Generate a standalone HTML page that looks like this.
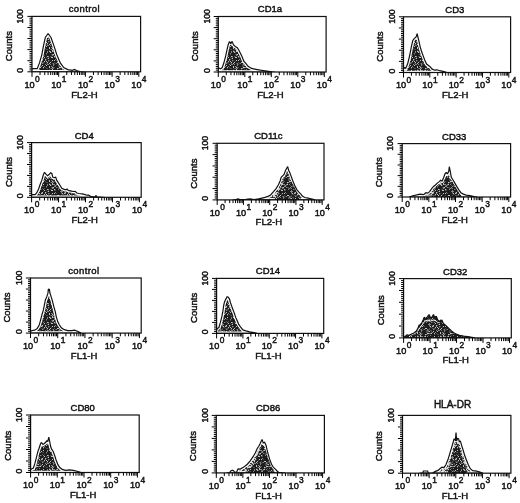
<!DOCTYPE html><html><head><meta charset="utf-8"><style>html,body{margin:0;padding:0;background:#fff;}svg{display:block;will-change:transform;}text{font-family:"Liberation Sans",sans-serif;fill:#111;stroke:#111;stroke-width:0.45px;}</style></head><body>
<svg width="520" height="503" viewBox="0 0 520 503">
<defs>
<pattern id="st" width="23" height="19" patternUnits="userSpaceOnUse"><rect width="23" height="19" fill="#1c1c1c"/><rect x="0" y="0" width="1" height="1" fill="#4e4e4e"/><rect x="2" y="0" width="1" height="1" fill="#4e4e4e"/><rect x="5" y="0" width="1" height="1" fill="#c4c4c4"/><rect x="6" y="0" width="1" height="1" fill="#c4c4c4"/><rect x="8" y="0" width="1" height="1" fill="#4e4e4e"/><rect x="9" y="0" width="1" height="1" fill="#4e4e4e"/><rect x="15" y="0" width="1" height="1" fill="#858585"/><rect x="21" y="0" width="1" height="1" fill="#c4c4c4"/><rect x="1" y="1" width="1" height="1" fill="#4e4e4e"/><rect x="2" y="1" width="1" height="1" fill="#c4c4c4"/><rect x="14" y="1" width="1" height="1" fill="#858585"/><rect x="15" y="1" width="1" height="1" fill="#858585"/><rect x="16" y="1" width="1" height="1" fill="#858585"/><rect x="20" y="1" width="1" height="1" fill="#4e4e4e"/><rect x="0" y="2" width="1" height="1" fill="#4e4e4e"/><rect x="9" y="2" width="1" height="1" fill="#858585"/><rect x="15" y="2" width="1" height="1" fill="#858585"/><rect x="18" y="2" width="1" height="1" fill="#4e4e4e"/><rect x="19" y="2" width="1" height="1" fill="#c4c4c4"/><rect x="22" y="2" width="1" height="1" fill="#c4c4c4"/><rect x="2" y="3" width="1" height="1" fill="#858585"/><rect x="3" y="3" width="1" height="1" fill="#4e4e4e"/><rect x="6" y="3" width="1" height="1" fill="#c4c4c4"/><rect x="8" y="3" width="1" height="1" fill="#c4c4c4"/><rect x="10" y="3" width="1" height="1" fill="#4e4e4e"/><rect x="15" y="3" width="1" height="1" fill="#4e4e4e"/><rect x="16" y="3" width="1" height="1" fill="#c4c4c4"/><rect x="18" y="3" width="1" height="1" fill="#c4c4c4"/><rect x="19" y="3" width="1" height="1" fill="#858585"/><rect x="22" y="3" width="1" height="1" fill="#858585"/><rect x="0" y="4" width="1" height="1" fill="#c4c4c4"/><rect x="2" y="4" width="1" height="1" fill="#4e4e4e"/><rect x="5" y="4" width="1" height="1" fill="#4e4e4e"/><rect x="16" y="4" width="1" height="1" fill="#4e4e4e"/><rect x="17" y="4" width="1" height="1" fill="#4e4e4e"/><rect x="21" y="4" width="1" height="1" fill="#c4c4c4"/><rect x="1" y="5" width="1" height="1" fill="#c4c4c4"/><rect x="4" y="5" width="1" height="1" fill="#c4c4c4"/><rect x="8" y="5" width="1" height="1" fill="#4e4e4e"/><rect x="11" y="5" width="1" height="1" fill="#c4c4c4"/><rect x="12" y="5" width="1" height="1" fill="#c4c4c4"/><rect x="15" y="5" width="1" height="1" fill="#4e4e4e"/><rect x="18" y="5" width="1" height="1" fill="#4e4e4e"/><rect x="19" y="5" width="1" height="1" fill="#4e4e4e"/><rect x="20" y="5" width="1" height="1" fill="#4e4e4e"/><rect x="21" y="5" width="1" height="1" fill="#4e4e4e"/><rect x="0" y="6" width="1" height="1" fill="#4e4e4e"/><rect x="1" y="6" width="1" height="1" fill="#4e4e4e"/><rect x="3" y="6" width="1" height="1" fill="#c4c4c4"/><rect x="6" y="6" width="1" height="1" fill="#4e4e4e"/><rect x="7" y="6" width="1" height="1" fill="#858585"/><rect x="9" y="6" width="1" height="1" fill="#4e4e4e"/><rect x="10" y="6" width="1" height="1" fill="#858585"/><rect x="13" y="6" width="1" height="1" fill="#858585"/><rect x="14" y="6" width="1" height="1" fill="#4e4e4e"/><rect x="15" y="6" width="1" height="1" fill="#4e4e4e"/><rect x="19" y="6" width="1" height="1" fill="#858585"/><rect x="20" y="6" width="1" height="1" fill="#4e4e4e"/><rect x="1" y="7" width="1" height="1" fill="#858585"/><rect x="2" y="7" width="1" height="1" fill="#858585"/><rect x="4" y="7" width="1" height="1" fill="#858585"/><rect x="7" y="7" width="1" height="1" fill="#858585"/><rect x="8" y="7" width="1" height="1" fill="#4e4e4e"/><rect x="12" y="7" width="1" height="1" fill="#4e4e4e"/><rect x="13" y="7" width="1" height="1" fill="#858585"/><rect x="14" y="7" width="1" height="1" fill="#4e4e4e"/><rect x="16" y="7" width="1" height="1" fill="#4e4e4e"/><rect x="17" y="7" width="1" height="1" fill="#4e4e4e"/><rect x="22" y="7" width="1" height="1" fill="#858585"/><rect x="0" y="8" width="1" height="1" fill="#c4c4c4"/><rect x="7" y="8" width="1" height="1" fill="#858585"/><rect x="12" y="8" width="1" height="1" fill="#4e4e4e"/><rect x="13" y="8" width="1" height="1" fill="#4e4e4e"/><rect x="14" y="8" width="1" height="1" fill="#858585"/><rect x="15" y="8" width="1" height="1" fill="#c4c4c4"/><rect x="17" y="8" width="1" height="1" fill="#4e4e4e"/><rect x="19" y="8" width="1" height="1" fill="#c4c4c4"/><rect x="3" y="9" width="1" height="1" fill="#c4c4c4"/><rect x="5" y="9" width="1" height="1" fill="#858585"/><rect x="6" y="9" width="1" height="1" fill="#4e4e4e"/><rect x="12" y="9" width="1" height="1" fill="#4e4e4e"/><rect x="13" y="9" width="1" height="1" fill="#4e4e4e"/><rect x="17" y="9" width="1" height="1" fill="#4e4e4e"/><rect x="18" y="9" width="1" height="1" fill="#858585"/><rect x="21" y="9" width="1" height="1" fill="#858585"/><rect x="3" y="10" width="1" height="1" fill="#c4c4c4"/><rect x="6" y="10" width="1" height="1" fill="#c4c4c4"/><rect x="7" y="10" width="1" height="1" fill="#4e4e4e"/><rect x="8" y="10" width="1" height="1" fill="#4e4e4e"/><rect x="13" y="10" width="1" height="1" fill="#c4c4c4"/><rect x="14" y="10" width="1" height="1" fill="#c4c4c4"/><rect x="15" y="10" width="1" height="1" fill="#858585"/><rect x="16" y="10" width="1" height="1" fill="#858585"/><rect x="17" y="10" width="1" height="1" fill="#c4c4c4"/><rect x="20" y="10" width="1" height="1" fill="#c4c4c4"/><rect x="22" y="10" width="1" height="1" fill="#4e4e4e"/><rect x="0" y="11" width="1" height="1" fill="#4e4e4e"/><rect x="1" y="11" width="1" height="1" fill="#4e4e4e"/><rect x="4" y="11" width="1" height="1" fill="#4e4e4e"/><rect x="5" y="11" width="1" height="1" fill="#858585"/><rect x="6" y="11" width="1" height="1" fill="#4e4e4e"/><rect x="7" y="11" width="1" height="1" fill="#858585"/><rect x="11" y="11" width="1" height="1" fill="#c4c4c4"/><rect x="12" y="11" width="1" height="1" fill="#858585"/><rect x="13" y="11" width="1" height="1" fill="#4e4e4e"/><rect x="20" y="11" width="1" height="1" fill="#4e4e4e"/><rect x="3" y="12" width="1" height="1" fill="#4e4e4e"/><rect x="6" y="12" width="1" height="1" fill="#c4c4c4"/><rect x="11" y="12" width="1" height="1" fill="#4e4e4e"/><rect x="14" y="12" width="1" height="1" fill="#4e4e4e"/><rect x="16" y="12" width="1" height="1" fill="#858585"/><rect x="1" y="13" width="1" height="1" fill="#858585"/><rect x="3" y="13" width="1" height="1" fill="#c4c4c4"/><rect x="4" y="13" width="1" height="1" fill="#858585"/><rect x="6" y="13" width="1" height="1" fill="#c4c4c4"/><rect x="7" y="13" width="1" height="1" fill="#858585"/><rect x="8" y="13" width="1" height="1" fill="#858585"/><rect x="10" y="13" width="1" height="1" fill="#858585"/><rect x="11" y="13" width="1" height="1" fill="#c4c4c4"/><rect x="13" y="13" width="1" height="1" fill="#858585"/><rect x="20" y="13" width="1" height="1" fill="#c4c4c4"/><rect x="1" y="14" width="1" height="1" fill="#858585"/><rect x="4" y="14" width="1" height="1" fill="#c4c4c4"/><rect x="5" y="14" width="1" height="1" fill="#4e4e4e"/><rect x="8" y="14" width="1" height="1" fill="#4e4e4e"/><rect x="9" y="14" width="1" height="1" fill="#858585"/><rect x="10" y="14" width="1" height="1" fill="#4e4e4e"/><rect x="14" y="14" width="1" height="1" fill="#4e4e4e"/><rect x="16" y="14" width="1" height="1" fill="#4e4e4e"/><rect x="18" y="14" width="1" height="1" fill="#c4c4c4"/><rect x="0" y="15" width="1" height="1" fill="#858585"/><rect x="8" y="15" width="1" height="1" fill="#858585"/><rect x="9" y="15" width="1" height="1" fill="#858585"/><rect x="15" y="15" width="1" height="1" fill="#858585"/><rect x="16" y="15" width="1" height="1" fill="#4e4e4e"/><rect x="17" y="15" width="1" height="1" fill="#858585"/><rect x="19" y="15" width="1" height="1" fill="#4e4e4e"/><rect x="20" y="15" width="1" height="1" fill="#4e4e4e"/><rect x="0" y="16" width="1" height="1" fill="#4e4e4e"/><rect x="5" y="16" width="1" height="1" fill="#4e4e4e"/><rect x="6" y="16" width="1" height="1" fill="#858585"/><rect x="7" y="16" width="1" height="1" fill="#c4c4c4"/><rect x="10" y="16" width="1" height="1" fill="#858585"/><rect x="11" y="16" width="1" height="1" fill="#4e4e4e"/><rect x="12" y="16" width="1" height="1" fill="#4e4e4e"/><rect x="14" y="16" width="1" height="1" fill="#858585"/><rect x="6" y="17" width="1" height="1" fill="#858585"/><rect x="7" y="17" width="1" height="1" fill="#4e4e4e"/><rect x="12" y="17" width="1" height="1" fill="#4e4e4e"/><rect x="13" y="17" width="1" height="1" fill="#858585"/><rect x="14" y="17" width="1" height="1" fill="#4e4e4e"/><rect x="15" y="17" width="1" height="1" fill="#858585"/><rect x="19" y="17" width="1" height="1" fill="#4e4e4e"/><rect x="21" y="17" width="1" height="1" fill="#4e4e4e"/><rect x="1" y="18" width="1" height="1" fill="#c4c4c4"/><rect x="2" y="18" width="1" height="1" fill="#858585"/><rect x="4" y="18" width="1" height="1" fill="#4e4e4e"/><rect x="5" y="18" width="1" height="1" fill="#4e4e4e"/><rect x="8" y="18" width="1" height="1" fill="#c4c4c4"/><rect x="9" y="18" width="1" height="1" fill="#4e4e4e"/><rect x="12" y="18" width="1" height="1" fill="#858585"/><rect x="17" y="18" width="1" height="1" fill="#858585"/><rect x="18" y="18" width="1" height="1" fill="#4e4e4e"/><rect x="20" y="18" width="1" height="1" fill="#858585"/></pattern>
<pattern id="stl" width="23" height="19" patternUnits="userSpaceOnUse"><rect width="23" height="19" fill="#d4d4d4"/><rect x="0" y="0" width="1" height="1" fill="#777"/><rect x="1" y="0" width="1" height="1" fill="#333"/><rect x="3" y="0" width="1" height="1" fill="#333"/><rect x="5" y="0" width="1" height="1" fill="#777"/><rect x="6" y="0" width="1" height="1" fill="#333"/><rect x="8" y="0" width="1" height="1" fill="#333"/><rect x="9" y="0" width="1" height="1" fill="#777"/><rect x="10" y="0" width="1" height="1" fill="#333"/><rect x="11" y="0" width="1" height="1" fill="#333"/><rect x="12" y="0" width="1" height="1" fill="#777"/><rect x="14" y="0" width="1" height="1" fill="#333"/><rect x="15" y="0" width="1" height="1" fill="#333"/><rect x="19" y="0" width="1" height="1" fill="#777"/><rect x="21" y="0" width="1" height="1" fill="#333"/><rect x="0" y="1" width="1" height="1" fill="#333"/><rect x="1" y="1" width="1" height="1" fill="#333"/><rect x="2" y="1" width="1" height="1" fill="#333"/><rect x="3" y="1" width="1" height="1" fill="#777"/><rect x="5" y="1" width="1" height="1" fill="#333"/><rect x="8" y="1" width="1" height="1" fill="#777"/><rect x="10" y="1" width="1" height="1" fill="#333"/><rect x="11" y="1" width="1" height="1" fill="#333"/><rect x="12" y="1" width="1" height="1" fill="#333"/><rect x="14" y="1" width="1" height="1" fill="#777"/><rect x="15" y="1" width="1" height="1" fill="#777"/><rect x="17" y="1" width="1" height="1" fill="#777"/><rect x="18" y="1" width="1" height="1" fill="#333"/><rect x="21" y="1" width="1" height="1" fill="#333"/><rect x="3" y="2" width="1" height="1" fill="#333"/><rect x="5" y="2" width="1" height="1" fill="#333"/><rect x="6" y="2" width="1" height="1" fill="#777"/><rect x="8" y="2" width="1" height="1" fill="#333"/><rect x="9" y="2" width="1" height="1" fill="#777"/><rect x="10" y="2" width="1" height="1" fill="#333"/><rect x="15" y="2" width="1" height="1" fill="#777"/><rect x="19" y="2" width="1" height="1" fill="#777"/><rect x="22" y="2" width="1" height="1" fill="#777"/><rect x="1" y="3" width="1" height="1" fill="#333"/><rect x="6" y="3" width="1" height="1" fill="#333"/><rect x="7" y="3" width="1" height="1" fill="#777"/><rect x="9" y="3" width="1" height="1" fill="#333"/><rect x="10" y="3" width="1" height="1" fill="#777"/><rect x="11" y="3" width="1" height="1" fill="#333"/><rect x="12" y="3" width="1" height="1" fill="#333"/><rect x="13" y="3" width="1" height="1" fill="#333"/><rect x="15" y="3" width="1" height="1" fill="#333"/><rect x="16" y="3" width="1" height="1" fill="#333"/><rect x="17" y="3" width="1" height="1" fill="#777"/><rect x="19" y="3" width="1" height="1" fill="#333"/><rect x="20" y="3" width="1" height="1" fill="#777"/><rect x="2" y="4" width="1" height="1" fill="#333"/><rect x="3" y="4" width="1" height="1" fill="#777"/><rect x="4" y="4" width="1" height="1" fill="#777"/><rect x="7" y="4" width="1" height="1" fill="#333"/><rect x="8" y="4" width="1" height="1" fill="#333"/><rect x="9" y="4" width="1" height="1" fill="#333"/><rect x="10" y="4" width="1" height="1" fill="#333"/><rect x="11" y="4" width="1" height="1" fill="#777"/><rect x="13" y="4" width="1" height="1" fill="#333"/><rect x="14" y="4" width="1" height="1" fill="#333"/><rect x="15" y="4" width="1" height="1" fill="#777"/><rect x="16" y="4" width="1" height="1" fill="#777"/><rect x="0" y="5" width="1" height="1" fill="#333"/><rect x="5" y="5" width="1" height="1" fill="#777"/><rect x="6" y="5" width="1" height="1" fill="#777"/><rect x="7" y="5" width="1" height="1" fill="#333"/><rect x="9" y="5" width="1" height="1" fill="#333"/><rect x="10" y="5" width="1" height="1" fill="#333"/><rect x="11" y="5" width="1" height="1" fill="#333"/><rect x="12" y="5" width="1" height="1" fill="#333"/><rect x="13" y="5" width="1" height="1" fill="#777"/><rect x="14" y="5" width="1" height="1" fill="#333"/><rect x="15" y="5" width="1" height="1" fill="#333"/><rect x="16" y="5" width="1" height="1" fill="#333"/><rect x="17" y="5" width="1" height="1" fill="#333"/><rect x="18" y="5" width="1" height="1" fill="#777"/><rect x="19" y="5" width="1" height="1" fill="#333"/><rect x="22" y="5" width="1" height="1" fill="#333"/><rect x="0" y="6" width="1" height="1" fill="#333"/><rect x="1" y="6" width="1" height="1" fill="#777"/><rect x="2" y="6" width="1" height="1" fill="#777"/><rect x="3" y="6" width="1" height="1" fill="#333"/><rect x="6" y="6" width="1" height="1" fill="#777"/><rect x="7" y="6" width="1" height="1" fill="#777"/><rect x="8" y="6" width="1" height="1" fill="#333"/><rect x="9" y="6" width="1" height="1" fill="#333"/><rect x="10" y="6" width="1" height="1" fill="#777"/><rect x="11" y="6" width="1" height="1" fill="#333"/><rect x="13" y="6" width="1" height="1" fill="#333"/><rect x="14" y="6" width="1" height="1" fill="#333"/><rect x="17" y="6" width="1" height="1" fill="#333"/><rect x="19" y="6" width="1" height="1" fill="#333"/><rect x="1" y="7" width="1" height="1" fill="#333"/><rect x="2" y="7" width="1" height="1" fill="#777"/><rect x="3" y="7" width="1" height="1" fill="#333"/><rect x="7" y="7" width="1" height="1" fill="#777"/><rect x="8" y="7" width="1" height="1" fill="#333"/><rect x="15" y="7" width="1" height="1" fill="#333"/><rect x="17" y="7" width="1" height="1" fill="#777"/><rect x="18" y="7" width="1" height="1" fill="#333"/><rect x="19" y="7" width="1" height="1" fill="#333"/><rect x="20" y="7" width="1" height="1" fill="#333"/><rect x="21" y="7" width="1" height="1" fill="#333"/><rect x="1" y="8" width="1" height="1" fill="#777"/><rect x="5" y="8" width="1" height="1" fill="#777"/><rect x="6" y="8" width="1" height="1" fill="#333"/><rect x="7" y="8" width="1" height="1" fill="#333"/><rect x="8" y="8" width="1" height="1" fill="#333"/><rect x="9" y="8" width="1" height="1" fill="#333"/><rect x="13" y="8" width="1" height="1" fill="#777"/><rect x="16" y="8" width="1" height="1" fill="#333"/><rect x="21" y="8" width="1" height="1" fill="#777"/><rect x="22" y="8" width="1" height="1" fill="#333"/><rect x="1" y="9" width="1" height="1" fill="#777"/><rect x="4" y="9" width="1" height="1" fill="#777"/><rect x="5" y="9" width="1" height="1" fill="#777"/><rect x="8" y="9" width="1" height="1" fill="#333"/><rect x="9" y="9" width="1" height="1" fill="#333"/><rect x="10" y="9" width="1" height="1" fill="#333"/><rect x="13" y="9" width="1" height="1" fill="#333"/><rect x="17" y="9" width="1" height="1" fill="#777"/><rect x="19" y="9" width="1" height="1" fill="#333"/><rect x="20" y="9" width="1" height="1" fill="#333"/><rect x="2" y="10" width="1" height="1" fill="#777"/><rect x="5" y="10" width="1" height="1" fill="#333"/><rect x="6" y="10" width="1" height="1" fill="#333"/><rect x="7" y="10" width="1" height="1" fill="#333"/><rect x="8" y="10" width="1" height="1" fill="#333"/><rect x="10" y="10" width="1" height="1" fill="#333"/><rect x="11" y="10" width="1" height="1" fill="#777"/><rect x="12" y="10" width="1" height="1" fill="#333"/><rect x="14" y="10" width="1" height="1" fill="#777"/><rect x="15" y="10" width="1" height="1" fill="#777"/><rect x="18" y="10" width="1" height="1" fill="#777"/><rect x="0" y="11" width="1" height="1" fill="#333"/><rect x="1" y="11" width="1" height="1" fill="#777"/><rect x="2" y="11" width="1" height="1" fill="#333"/><rect x="3" y="11" width="1" height="1" fill="#333"/><rect x="5" y="11" width="1" height="1" fill="#333"/><rect x="6" y="11" width="1" height="1" fill="#777"/><rect x="9" y="11" width="1" height="1" fill="#777"/><rect x="13" y="11" width="1" height="1" fill="#333"/><rect x="15" y="11" width="1" height="1" fill="#333"/><rect x="16" y="11" width="1" height="1" fill="#333"/><rect x="22" y="11" width="1" height="1" fill="#777"/><rect x="4" y="12" width="1" height="1" fill="#777"/><rect x="6" y="12" width="1" height="1" fill="#777"/><rect x="11" y="12" width="1" height="1" fill="#333"/><rect x="15" y="12" width="1" height="1" fill="#333"/><rect x="16" y="12" width="1" height="1" fill="#333"/><rect x="17" y="12" width="1" height="1" fill="#777"/><rect x="18" y="12" width="1" height="1" fill="#333"/><rect x="19" y="12" width="1" height="1" fill="#333"/><rect x="20" y="12" width="1" height="1" fill="#333"/><rect x="1" y="13" width="1" height="1" fill="#333"/><rect x="4" y="13" width="1" height="1" fill="#333"/><rect x="7" y="13" width="1" height="1" fill="#333"/><rect x="9" y="13" width="1" height="1" fill="#777"/><rect x="10" y="13" width="1" height="1" fill="#777"/><rect x="13" y="13" width="1" height="1" fill="#333"/><rect x="14" y="13" width="1" height="1" fill="#777"/><rect x="16" y="13" width="1" height="1" fill="#777"/><rect x="17" y="13" width="1" height="1" fill="#333"/><rect x="18" y="13" width="1" height="1" fill="#777"/><rect x="20" y="13" width="1" height="1" fill="#333"/><rect x="22" y="13" width="1" height="1" fill="#777"/><rect x="0" y="14" width="1" height="1" fill="#333"/><rect x="1" y="14" width="1" height="1" fill="#777"/><rect x="4" y="14" width="1" height="1" fill="#333"/><rect x="8" y="14" width="1" height="1" fill="#333"/><rect x="9" y="14" width="1" height="1" fill="#333"/><rect x="10" y="14" width="1" height="1" fill="#333"/><rect x="12" y="14" width="1" height="1" fill="#333"/><rect x="13" y="14" width="1" height="1" fill="#333"/><rect x="14" y="14" width="1" height="1" fill="#777"/><rect x="17" y="14" width="1" height="1" fill="#333"/><rect x="18" y="14" width="1" height="1" fill="#333"/><rect x="22" y="14" width="1" height="1" fill="#333"/><rect x="0" y="15" width="1" height="1" fill="#333"/><rect x="2" y="15" width="1" height="1" fill="#777"/><rect x="3" y="15" width="1" height="1" fill="#333"/><rect x="7" y="15" width="1" height="1" fill="#333"/><rect x="9" y="15" width="1" height="1" fill="#333"/><rect x="11" y="15" width="1" height="1" fill="#777"/><rect x="12" y="15" width="1" height="1" fill="#777"/><rect x="15" y="15" width="1" height="1" fill="#333"/><rect x="16" y="15" width="1" height="1" fill="#333"/><rect x="18" y="15" width="1" height="1" fill="#333"/><rect x="19" y="15" width="1" height="1" fill="#333"/><rect x="20" y="15" width="1" height="1" fill="#333"/><rect x="21" y="15" width="1" height="1" fill="#333"/><rect x="22" y="15" width="1" height="1" fill="#333"/><rect x="0" y="16" width="1" height="1" fill="#777"/><rect x="1" y="16" width="1" height="1" fill="#777"/><rect x="3" y="16" width="1" height="1" fill="#333"/><rect x="5" y="16" width="1" height="1" fill="#333"/><rect x="6" y="16" width="1" height="1" fill="#777"/><rect x="7" y="16" width="1" height="1" fill="#333"/><rect x="8" y="16" width="1" height="1" fill="#333"/><rect x="9" y="16" width="1" height="1" fill="#333"/><rect x="12" y="16" width="1" height="1" fill="#333"/><rect x="13" y="16" width="1" height="1" fill="#777"/><rect x="15" y="16" width="1" height="1" fill="#333"/><rect x="17" y="16" width="1" height="1" fill="#777"/><rect x="18" y="16" width="1" height="1" fill="#777"/><rect x="20" y="16" width="1" height="1" fill="#777"/><rect x="1" y="17" width="1" height="1" fill="#777"/><rect x="5" y="17" width="1" height="1" fill="#777"/><rect x="6" y="17" width="1" height="1" fill="#777"/><rect x="7" y="17" width="1" height="1" fill="#333"/><rect x="8" y="17" width="1" height="1" fill="#333"/><rect x="9" y="17" width="1" height="1" fill="#333"/><rect x="11" y="17" width="1" height="1" fill="#333"/><rect x="12" y="17" width="1" height="1" fill="#333"/><rect x="13" y="17" width="1" height="1" fill="#333"/><rect x="17" y="17" width="1" height="1" fill="#333"/><rect x="18" y="17" width="1" height="1" fill="#333"/><rect x="19" y="17" width="1" height="1" fill="#333"/><rect x="20" y="17" width="1" height="1" fill="#777"/><rect x="21" y="17" width="1" height="1" fill="#333"/><rect x="22" y="17" width="1" height="1" fill="#777"/><rect x="0" y="18" width="1" height="1" fill="#333"/><rect x="4" y="18" width="1" height="1" fill="#333"/><rect x="6" y="18" width="1" height="1" fill="#777"/><rect x="7" y="18" width="1" height="1" fill="#777"/><rect x="8" y="18" width="1" height="1" fill="#333"/><rect x="9" y="18" width="1" height="1" fill="#777"/><rect x="10" y="18" width="1" height="1" fill="#777"/><rect x="12" y="18" width="1" height="1" fill="#333"/><rect x="14" y="18" width="1" height="1" fill="#333"/><rect x="15" y="18" width="1" height="1" fill="#333"/><rect x="16" y="18" width="1" height="1" fill="#333"/><rect x="17" y="18" width="1" height="1" fill="#777"/><rect x="18" y="18" width="1" height="1" fill="#333"/><rect x="19" y="18" width="1" height="1" fill="#333"/><rect x="20" y="18" width="1" height="1" fill="#777"/><rect x="21" y="18" width="1" height="1" fill="#333"/></pattern>
<clipPath id="c00"><rect x="32" y="16.4" width="108.6" height="55.4"/></clipPath>
<clipPath id="c01"><rect x="218.3" y="16.5" width="107.8" height="55.5"/></clipPath>
<clipPath id="c02"><rect x="403.5" y="16.8" width="107.1" height="55.7"/></clipPath>
<clipPath id="c10"><rect x="31.6" y="142.6" width="109.6" height="54.7"/></clipPath>
<clipPath id="c11"><rect x="217.2" y="143.3" width="106.8" height="56.6"/></clipPath>
<clipPath id="c12"><rect x="402.2" y="143.6" width="108.4" height="53.4"/></clipPath>
<clipPath id="c20"><rect x="30.5" y="278" width="110.7" height="55.1"/></clipPath>
<clipPath id="c21"><rect x="216.6" y="278.4" width="107.1" height="55"/></clipPath>
<clipPath id="c22"><rect x="403.6" y="278.6" width="107.7" height="59.3"/></clipPath>
<clipPath id="c30"><rect x="30.6" y="415" width="108.6" height="57.5"/></clipPath>
<clipPath id="c31"><rect x="216.3" y="415.4" width="108.1" height="57.5"/></clipPath>
<clipPath id="c32"><rect x="402.5" y="415.4" width="108.4" height="57.8"/></clipPath>
</defs>
<rect width="520" height="503" fill="#fff"/>
<g clip-path="url(#c00)">
<path d="M29.5 71.8L32.5 68.7L37.2 68.7L39.5 62.9L41.8 54.8L43.5 45.6L45.3 37.5L48.1 33.5L51 37.5L53.9 45.6L56.8 54.8L60.3 62.9L63.7 67.5L67.8 69.6L72.4 70.4L74.5 69.4L76.5 70.6L80 71.5L83 71.8 Z" fill="url(#st)"/>
<path d="M29.5 71.8L32.5 68.7L37.2 68.7L39.5 62.9L41.8 54.8L43.5 45.6L45.3 37.5L48.1 33.5L51 37.5L53.9 45.6L56.8 54.8L60.3 62.9L63.7 67.5L67.8 69.6L72.4 70.4L74.5 69.4L76.5 70.6L80 71.5L83 71.8 Z" fill="none" stroke="#fff" stroke-width="3.6" stroke-linejoin="miter" stroke-miterlimit="2"/>
<path d="M29.5 71.8L32.5 68.7L37.2 68.7L39.5 62.9L41.8 54.8L43.5 45.6L45.3 37.5L48.1 33.5L51 37.5L53.9 45.6L56.8 54.8L60.3 62.9L63.7 67.5L67.8 69.6L72.4 70.4L74.5 69.4L76.5 70.6L80 71.5L83 71.8 Z" fill="none" stroke="#111" stroke-width="1.2" stroke-linejoin="miter" stroke-miterlimit="1.5"/>
</g>
<rect x="32" y="16.4" width="108.6" height="55.4" fill="none" stroke="#111" stroke-width="1.2"/>
<path d="M27.4 71.8H32M29.5 69.95H32M29.5 68.11H32M29.5 66.26H32M29.5 64.41H32M29.5 62.57H32M27.4 60.72H32M29.5 58.87H32M29.5 57.03H32M29.5 55.18H32M29.5 53.33H32M29.5 51.49H32M27.4 49.64H32M29.5 47.79H32M29.5 45.95H32M29.5 44.1H32M29.5 42.25H32M29.5 40.41H32M27.4 38.56H32M29.5 36.71H32M29.5 34.87H32M29.5 33.02H32M29.5 31.17H32M29.5 29.33H32M27.4 27.48H32M29.5 25.63H32M29.5 23.79H32M29.5 21.94H32M29.5 20.09H32M29.5 18.25H32M27.4 16.4H32M40.04 71.8V75M44.74 71.8V75M48.08 71.8V75M50.66 71.8V75M52.78 71.8V75M54.56 71.8V75M56.11 71.8V75M57.48 71.8V75M66.74 71.8V75M71.44 71.8V75M74.78 71.8V75M77.36 71.8V75M79.48 71.8V75M81.26 71.8V75M82.81 71.8V75M84.18 71.8V75M93.44 71.8V75M98.14 71.8V75M101.48 71.8V75M104.06 71.8V75M106.18 71.8V75M107.96 71.8V75M109.51 71.8V75M110.88 71.8V75M120.14 71.8V75M124.84 71.8V75M128.18 71.8V75M130.76 71.8V75M132.88 71.8V75M134.66 71.8V75M136.21 71.8V75M137.58 71.8V75M32 71.8V76.8M58.7 71.8V76.8M85.4 71.8V76.8M112.1 71.8V76.8M138.8 71.8V76.8" stroke="#000" stroke-width="1" fill="none"/>
<text x="84.3" y="12.3" font-size="9.5" text-anchor="middle" letter-spacing="0.4">control</text>
<text x="84.5" y="97.6" font-size="9.5" text-anchor="middle">FL2-H</text>
<text x="24.5" y="87.6" font-size="9.2">10</text>
<text x="35.05" y="81.8" font-size="8.4">0</text>
<text x="51.2" y="87.6" font-size="9.2">10</text>
<text x="61.75" y="81.8" font-size="8.4">1</text>
<text x="77.9" y="87.6" font-size="9.2">10</text>
<text x="88.45" y="81.8" font-size="8.4">2</text>
<text x="104.6" y="87.6" font-size="9.2">10</text>
<text x="115.15" y="81.8" font-size="8.4">3</text>
<text x="131.3" y="87.6" font-size="9.2">10</text>
<text x="141.85" y="81.8" font-size="8.4">4</text>
<text transform="translate(23.2 16.3) rotate(-90)" font-size="8.6" text-anchor="middle">100</text>
<text transform="translate(23.2 70.3) rotate(-90)" font-size="8.6" text-anchor="middle">0</text>
<text transform="translate(11.9 46.1) rotate(-90)" font-size="9.5" text-anchor="middle">Counts</text>
<g clip-path="url(#c01)">
<path d="M215.7 72L218.7 68L220.5 68.9L222.2 67.6L223.9 62.8L225.7 55.9L227 49.8L228.2 44.7L229.5 41.6L230.8 43.8L232.1 41.4L233.4 44.7L235.2 46.4L237.3 47.7L238.6 49.8L240.4 53.3L242.1 56.8L243.8 61.1L246 63.7L248.1 66.3L251.6 68.4L255.9 69.3L260.3 70.2L266.8 71L272 71.8L275 72 Z" fill="url(#st)"/>
<path d="M215.7 72L218.7 68L220.5 68.9L222.2 67.6L223.9 62.8L225.7 55.9L227 49.8L228.2 44.7L229.5 41.6L230.8 43.8L232.1 41.4L233.4 44.7L235.2 46.4L237.3 47.7L238.6 49.8L240.4 53.3L242.1 56.8L243.8 61.1L246 63.7L248.1 66.3L251.6 68.4L255.9 69.3L260.3 70.2L266.8 71L272 71.8L275 72 Z" fill="none" stroke="#fff" stroke-width="3.6" stroke-linejoin="miter" stroke-miterlimit="2"/>
<path d="M215.7 72L218.7 68L220.5 68.9L222.2 67.6L223.9 62.8L225.7 55.9L227 49.8L228.2 44.7L229.5 41.6L230.8 43.8L232.1 41.4L233.4 44.7L235.2 46.4L237.3 47.7L238.6 49.8L240.4 53.3L242.1 56.8L243.8 61.1L246 63.7L248.1 66.3L251.6 68.4L255.9 69.3L260.3 70.2L266.8 71L272 71.8L275 72 Z" fill="none" stroke="#111" stroke-width="1.2" stroke-linejoin="miter" stroke-miterlimit="1.5"/>
</g>
<rect x="218.3" y="16.5" width="107.8" height="55.5" fill="none" stroke="#111" stroke-width="1.2"/>
<path d="M213.7 72H218.3M215.8 70.15H218.3M215.8 68.3H218.3M215.8 66.45H218.3M215.8 64.6H218.3M215.8 62.75H218.3M213.7 60.9H218.3M215.8 59.05H218.3M215.8 57.2H218.3M215.8 55.35H218.3M215.8 53.5H218.3M215.8 51.65H218.3M213.7 49.8H218.3M215.8 47.95H218.3M215.8 46.1H218.3M215.8 44.25H218.3M215.8 42.4H218.3M215.8 40.55H218.3M213.7 38.7H218.3M215.8 36.85H218.3M215.8 35H218.3M215.8 33.15H218.3M215.8 31.3H218.3M215.8 29.45H218.3M213.7 27.6H218.3M215.8 25.75H218.3M215.8 23.9H218.3M215.8 22.05H218.3M215.8 20.2H218.3M215.8 18.35H218.3M213.7 16.5H218.3M226.28 72V75.2M230.94 72V75.2M234.25 72V75.2M236.82 72V75.2M238.92 72V75.2M240.7 72V75.2M242.23 72V75.2M243.59 72V75.2M252.78 72V75.2M257.44 72V75.2M260.75 72V75.2M263.32 72V75.2M265.42 72V75.2M267.2 72V75.2M268.73 72V75.2M270.09 72V75.2M279.28 72V75.2M283.94 72V75.2M287.25 72V75.2M289.82 72V75.2M291.92 72V75.2M293.7 72V75.2M295.23 72V75.2M296.59 72V75.2M305.78 72V75.2M310.44 72V75.2M313.75 72V75.2M316.32 72V75.2M318.42 72V75.2M320.2 72V75.2M321.73 72V75.2M323.09 72V75.2M218.3 72V77M244.8 72V77M271.3 72V77M297.8 72V77M324.3 72V77" stroke="#000" stroke-width="1" fill="none"/>
<text x="270" y="12.4" font-size="9.5" text-anchor="middle">CD1a</text>
<text x="270.4" y="97.8" font-size="9.5" text-anchor="middle">FL2-H</text>
<text x="210.8" y="87.8" font-size="9.2">10</text>
<text x="221.35" y="82" font-size="8.4">0</text>
<text x="237.3" y="87.8" font-size="9.2">10</text>
<text x="247.85" y="82" font-size="8.4">1</text>
<text x="263.8" y="87.8" font-size="9.2">10</text>
<text x="274.35" y="82" font-size="8.4">2</text>
<text x="290.3" y="87.8" font-size="9.2">10</text>
<text x="300.85" y="82" font-size="8.4">3</text>
<text x="316.8" y="87.8" font-size="9.2">10</text>
<text x="327.35" y="82" font-size="8.4">4</text>
<text transform="translate(209.5 16.4) rotate(-90)" font-size="8.6" text-anchor="middle">100</text>
<text transform="translate(209.5 70.5) rotate(-90)" font-size="8.6" text-anchor="middle">0</text>
<text transform="translate(198.2 46.25) rotate(-90)" font-size="9.5" text-anchor="middle">Counts</text>
<g clip-path="url(#c02)">
<path d="M401.3 72.5L404.3 67.6L405.6 68.5L407.6 64.1L409.1 58L410.4 51.9L411.6 45.7L412.8 40.5L414.4 38.3L416.1 37L417.2 33.7L417.9 37L419 41.4L420.1 46.6L421.4 51L423 55.4L424.6 59.7L426.6 64.1L430.1 66.7L431.9 68.9L434.5 70.2L437.1 69.8L439.7 70.7L444 71.6L447 72.5 Z" fill="url(#st)"/>
<path d="M401.3 72.5L404.3 67.6L405.6 68.5L407.6 64.1L409.1 58L410.4 51.9L411.6 45.7L412.8 40.5L414.4 38.3L416.1 37L417.2 33.7L417.9 37L419 41.4L420.1 46.6L421.4 51L423 55.4L424.6 59.7L426.6 64.1L430.1 66.7L431.9 68.9L434.5 70.2L437.1 69.8L439.7 70.7L444 71.6L447 72.5 Z" fill="none" stroke="#fff" stroke-width="3.6" stroke-linejoin="miter" stroke-miterlimit="2"/>
<path d="M401.3 72.5L404.3 67.6L405.6 68.5L407.6 64.1L409.1 58L410.4 51.9L411.6 45.7L412.8 40.5L414.4 38.3L416.1 37L417.2 33.7L417.9 37L419 41.4L420.1 46.6L421.4 51L423 55.4L424.6 59.7L426.6 64.1L430.1 66.7L431.9 68.9L434.5 70.2L437.1 69.8L439.7 70.7L444 71.6L447 72.5 Z" fill="none" stroke="#111" stroke-width="1.2" stroke-linejoin="miter" stroke-miterlimit="1.5"/>
</g>
<rect x="403.5" y="16.8" width="107.1" height="55.7" fill="none" stroke="#111" stroke-width="1.2"/>
<path d="M398.9 72.5H403.5M401 70.64H403.5M401 68.79H403.5M401 66.93H403.5M401 65.07H403.5M401 63.22H403.5M398.9 61.36H403.5M401 59.5H403.5M401 57.65H403.5M401 55.79H403.5M401 53.93H403.5M401 52.08H403.5M398.9 50.22H403.5M401 48.36H403.5M401 46.51H403.5M401 44.65H403.5M401 42.79H403.5M401 40.94H403.5M398.9 39.08H403.5M401 37.22H403.5M401 35.37H403.5M401 33.51H403.5M401 31.65H403.5M401 29.8H403.5M398.9 27.94H403.5M401 26.08H403.5M401 24.23H403.5M401 22.37H403.5M401 20.51H403.5M401 18.66H403.5M398.9 16.8H403.5M411.42 72.5V75.7M416.06 72.5V75.7M419.35 72.5V75.7M421.9 72.5V75.7M423.98 72.5V75.7M425.75 72.5V75.7M427.27 72.5V75.7M428.62 72.5V75.7M437.75 72.5V75.7M442.39 72.5V75.7M445.67 72.5V75.7M448.23 72.5V75.7M450.31 72.5V75.7M452.07 72.5V75.7M453.6 72.5V75.7M454.95 72.5V75.7M464.07 72.5V75.7M468.71 72.5V75.7M472 72.5V75.7M474.55 72.5V75.7M476.63 72.5V75.7M478.4 72.5V75.7M479.92 72.5V75.7M481.27 72.5V75.7M490.4 72.5V75.7M495.04 72.5V75.7M498.32 72.5V75.7M500.88 72.5V75.7M502.96 72.5V75.7M504.72 72.5V75.7M506.25 72.5V75.7M507.6 72.5V75.7M403.5 72.5V77.5M429.82 72.5V77.5M456.15 72.5V77.5M482.48 72.5V77.5M508.8 72.5V77.5" stroke="#000" stroke-width="1" fill="none"/>
<text x="454.85" y="12.7" font-size="9.5" text-anchor="middle">CD3</text>
<text x="455.25" y="98.3" font-size="9.5" text-anchor="middle">FL2-H</text>
<text x="396" y="88.3" font-size="9.2">10</text>
<text x="406.55" y="82.5" font-size="8.4">0</text>
<text x="422.32" y="88.3" font-size="9.2">10</text>
<text x="432.88" y="82.5" font-size="8.4">1</text>
<text x="448.65" y="88.3" font-size="9.2">10</text>
<text x="459.2" y="82.5" font-size="8.4">2</text>
<text x="474.98" y="88.3" font-size="9.2">10</text>
<text x="485.53" y="82.5" font-size="8.4">3</text>
<text x="501.3" y="88.3" font-size="9.2">10</text>
<text x="511.85" y="82.5" font-size="8.4">4</text>
<text transform="translate(394.7 16.7) rotate(-90)" font-size="8.6" text-anchor="middle">100</text>
<text transform="translate(394.7 71) rotate(-90)" font-size="8.6" text-anchor="middle">0</text>
<text transform="translate(383.4 46.65) rotate(-90)" font-size="9.5" text-anchor="middle">Counts</text>
<g clip-path="url(#c10)">
<path d="M29.3 197.3L32.3 194.6L35.2 194.6L36.8 192.7L38.7 188.8L40.2 184.2L41.8 180.4L43.3 175L44.5 172.3L46 174.2L47.5 175.8L49.1 174.6L50.6 172.7L51.8 173.5L52.9 177.3L54.5 177.7L55.6 176.9L56.8 180.4L58.3 182.7L59.8 185L61.8 188.2L64.7 189.6L66.3 189.6L67.1 189L68.2 190.4L71.4 191.1L73.3 191.5L75.2 191.3L76.7 193L79.1 193.5L82 193.9L84.4 194.4L86.8 195.2L88.7 195.2L90.6 196.3L93.5 196.8L95.3 196.6L95.9 195.4L96.6 196.6L97.3 196.9L101.2 197.2L104.2 197.3 Z" fill="url(#st)"/>
<path d="M29.3 197.3L32.3 194.6L35.2 194.6L36.8 192.7L38.7 188.8L40.2 184.2L41.8 180.4L43.3 175L44.5 172.3L46 174.2L47.5 175.8L49.1 174.6L50.6 172.7L51.8 173.5L52.9 177.3L54.5 177.7L55.6 176.9L56.8 180.4L58.3 182.7L59.8 185L61.8 188.2L64.7 189.6L66.3 189.6L67.1 189L68.2 190.4L71.4 191.1L73.3 191.5L75.2 191.3L76.7 193L79.1 193.5L82 193.9L84.4 194.4L86.8 195.2L88.7 195.2L90.6 196.3L93.5 196.8L95.3 196.6L95.9 195.4L96.6 196.6L97.3 196.9L101.2 197.2L104.2 197.3 Z" fill="none" stroke="#fff" stroke-width="3.6" stroke-linejoin="miter" stroke-miterlimit="2"/>
<path d="M29.3 197.3L32.3 194.6L35.2 194.6L36.8 192.7L38.7 188.8L40.2 184.2L41.8 180.4L43.3 175L44.5 172.3L46 174.2L47.5 175.8L49.1 174.6L50.6 172.7L51.8 173.5L52.9 177.3L54.5 177.7L55.6 176.9L56.8 180.4L58.3 182.7L59.8 185L61.8 188.2L64.7 189.6L66.3 189.6L67.1 189L68.2 190.4L71.4 191.1L73.3 191.5L75.2 191.3L76.7 193L79.1 193.5L82 193.9L84.4 194.4L86.8 195.2L88.7 195.2L90.6 196.3L93.5 196.8L95.3 196.6L95.9 195.4L96.6 196.6L97.3 196.9L101.2 197.2L104.2 197.3 Z" fill="none" stroke="#111" stroke-width="1.2" stroke-linejoin="miter" stroke-miterlimit="1.5"/>
</g>
<rect x="31.6" y="142.6" width="109.6" height="54.7" fill="none" stroke="#111" stroke-width="1.2"/>
<path d="M27 197.3H31.6M29.1 195.48H31.6M29.1 193.65H31.6M29.1 191.83H31.6M29.1 190.01H31.6M29.1 188.18H31.6M27 186.36H31.6M29.1 184.54H31.6M29.1 182.71H31.6M29.1 180.89H31.6M29.1 179.07H31.6M29.1 177.24H31.6M27 175.42H31.6M29.1 173.6H31.6M29.1 171.77H31.6M29.1 169.95H31.6M29.1 168.13H31.6M29.1 166.3H31.6M27 164.48H31.6M29.1 162.66H31.6M29.1 160.83H31.6M29.1 159.01H31.6M29.1 157.19H31.6M29.1 155.36H31.6M27 153.54H31.6M29.1 151.72H31.6M29.1 149.89H31.6M29.1 148.07H31.6M29.1 146.25H31.6M29.1 144.42H31.6M27 142.6H31.6M39.71 197.3V200.5M44.46 197.3V200.5M47.83 197.3V200.5M50.44 197.3V200.5M52.57 197.3V200.5M54.38 197.3V200.5M55.94 197.3V200.5M57.32 197.3V200.5M66.66 197.3V200.5M71.41 197.3V200.5M74.78 197.3V200.5M77.39 197.3V200.5M79.52 197.3V200.5M81.33 197.3V200.5M82.89 197.3V200.5M84.27 197.3V200.5M93.61 197.3V200.5M98.36 197.3V200.5M101.73 197.3V200.5M104.34 197.3V200.5M106.47 197.3V200.5M108.28 197.3V200.5M109.84 197.3V200.5M111.22 197.3V200.5M120.56 197.3V200.5M125.31 197.3V200.5M128.68 197.3V200.5M131.29 197.3V200.5M133.42 197.3V200.5M135.23 197.3V200.5M136.79 197.3V200.5M138.17 197.3V200.5M31.6 197.3V202.3M58.55 197.3V202.3M85.5 197.3V202.3M112.45 197.3V202.3M139.4 197.3V202.3" stroke="#000" stroke-width="1" fill="none"/>
<text x="84.2" y="138.5" font-size="9.5" text-anchor="middle">CD4</text>
<text x="84.6" y="223.1" font-size="9.5" text-anchor="middle">FL2-H</text>
<text x="24.1" y="213.1" font-size="9.2">10</text>
<text x="34.65" y="207.3" font-size="8.4">0</text>
<text x="51.05" y="213.1" font-size="9.2">10</text>
<text x="61.6" y="207.3" font-size="8.4">1</text>
<text x="78" y="213.1" font-size="9.2">10</text>
<text x="88.55" y="207.3" font-size="8.4">2</text>
<text x="104.95" y="213.1" font-size="9.2">10</text>
<text x="115.5" y="207.3" font-size="8.4">3</text>
<text x="131.9" y="213.1" font-size="9.2">10</text>
<text x="142.45" y="207.3" font-size="8.4">4</text>
<text transform="translate(22.8 142.5) rotate(-90)" font-size="8.6" text-anchor="middle">100</text>
<text transform="translate(22.8 195.8) rotate(-90)" font-size="8.6" text-anchor="middle">0</text>
<text transform="translate(11.5 171.95) rotate(-90)" font-size="9.5" text-anchor="middle">Counts</text>
<g clip-path="url(#c11)">
<path d="M233 199.9L236 199.6L238 198.8L240 199.6L246 199.3L250 198.9L254 199.5L258.5 198.9L262 198.1L265 197.4L268 196.4L270.6 195L273.5 191.7L275.9 188.8L278.3 185L280.2 180.7L281.2 177.3L282.6 175.9L284 174.4L285.5 170.6L286.7 168.2L287.7 166.7L288.7 170.6L289.8 172.5L290.8 175.4L292.2 179.2L293.7 183.1L295.1 186.4L297 189.8L298.9 192.2L300.9 194.1L302.3 196.1L304.7 197.5L308.1 198.2L312 199L315 199.9 Z" fill="url(#stl)"/>
<path d="M233 199.9L236 199.6L238 198.8L240 199.6L246 199.3L250 198.9L254 199.5L258.5 198.9L262 198.1L265 197.4L268 196.4L270.6 195L273.5 191.7L275.9 188.8L278.3 185L280.2 180.7L281.2 177.3L282.6 175.9L284 174.4L285.5 170.6L286.7 168.2L287.7 166.7L288.7 170.6L289.8 172.5L290.8 175.4L292.2 179.2L293.7 183.1L295.1 186.4L297 189.8L298.9 192.2L300.9 194.1L302.3 196.1L304.7 197.5L308.1 198.2L312 199L315 199.9 Z" fill="none" stroke="#fff" stroke-width="3.2" stroke-linejoin="miter" stroke-miterlimit="2"/>
<path d="M275 201.9L275 198.5L277.1 195.2L279.3 190.7L281.2 186.2L282.7 182.4L283.5 179.4L285 177.8L286.5 175.5L287.6 173L288.3 174.5L289.5 178L291.4 181.5L293.4 185.2L295.3 189L297.2 192.5L299 195.5L300.5 198.5L300.5 201.9 Z" fill="url(#st)"/>
<path d="M233 199.9L236 199.6L238 198.8L240 199.6L246 199.3L250 198.9L254 199.5L258.5 198.9L262 198.1L265 197.4L268 196.4L270.6 195L273.5 191.7L275.9 188.8L278.3 185L280.2 180.7L281.2 177.3L282.6 175.9L284 174.4L285.5 170.6L286.7 168.2L287.7 166.7L288.7 170.6L289.8 172.5L290.8 175.4L292.2 179.2L293.7 183.1L295.1 186.4L297 189.8L298.9 192.2L300.9 194.1L302.3 196.1L304.7 197.5L308.1 198.2L312 199L315 199.9 Z" fill="none" stroke="#111" stroke-width="1.2" stroke-linejoin="miter" stroke-miterlimit="1.5"/>
</g>
<rect x="217.2" y="143.3" width="106.8" height="56.6" fill="none" stroke="#111" stroke-width="1.2"/>
<path d="M212.6 199.9H217.2M214.7 198.01H217.2M214.7 196.13H217.2M214.7 194.24H217.2M214.7 192.35H217.2M214.7 190.47H217.2M212.6 188.58H217.2M214.7 186.69H217.2M214.7 184.81H217.2M214.7 182.92H217.2M214.7 181.03H217.2M214.7 179.15H217.2M212.6 177.26H217.2M214.7 175.37H217.2M214.7 173.49H217.2M214.7 171.6H217.2M214.7 169.71H217.2M214.7 167.83H217.2M212.6 165.94H217.2M214.7 164.05H217.2M214.7 162.17H217.2M214.7 160.28H217.2M214.7 158.39H217.2M214.7 156.51H217.2M212.6 154.62H217.2M214.7 152.73H217.2M214.7 150.85H217.2M214.7 148.96H217.2M214.7 147.07H217.2M214.7 145.19H217.2M212.6 143.3H217.2M225.1 199.9V203.1M229.72 199.9V203.1M233 199.9V203.1M235.55 199.9V203.1M237.63 199.9V203.1M239.38 199.9V203.1M240.91 199.9V203.1M242.25 199.9V203.1M251.35 199.9V203.1M255.97 199.9V203.1M259.25 199.9V203.1M261.8 199.9V203.1M263.88 199.9V203.1M265.63 199.9V203.1M267.16 199.9V203.1M268.5 199.9V203.1M277.6 199.9V203.1M282.22 199.9V203.1M285.5 199.9V203.1M288.05 199.9V203.1M290.13 199.9V203.1M291.88 199.9V203.1M293.41 199.9V203.1M294.75 199.9V203.1M303.85 199.9V203.1M308.47 199.9V203.1M311.75 199.9V203.1M314.3 199.9V203.1M316.38 199.9V203.1M318.13 199.9V203.1M319.66 199.9V203.1M321 199.9V203.1M217.2 199.9V204.9M243.45 199.9V204.9M269.7 199.9V204.9M295.95 199.9V204.9M322.2 199.9V204.9" stroke="#000" stroke-width="1" fill="none"/>
<text x="268.4" y="139.2" font-size="9.5" text-anchor="middle">CD11c</text>
<text x="268.8" y="225.1" font-size="9.5" text-anchor="middle">FL2-H</text>
<text x="209.7" y="215.7" font-size="9.2">10</text>
<text x="220.25" y="209.9" font-size="8.4">0</text>
<text x="235.95" y="215.7" font-size="9.2">10</text>
<text x="246.5" y="209.9" font-size="8.4">1</text>
<text x="262.2" y="215.7" font-size="9.2">10</text>
<text x="272.75" y="209.9" font-size="8.4">2</text>
<text x="288.45" y="215.7" font-size="9.2">10</text>
<text x="299" y="209.9" font-size="8.4">3</text>
<text x="314.7" y="215.7" font-size="9.2">10</text>
<text x="325.25" y="209.9" font-size="8.4">4</text>
<text transform="translate(208.4 143.2) rotate(-90)" font-size="8.6" text-anchor="middle">100</text>
<text transform="translate(208.4 198.4) rotate(-90)" font-size="8.6" text-anchor="middle">0</text>
<text transform="translate(197.1 173.6) rotate(-90)" font-size="9.5" text-anchor="middle">Counts</text>
<g clip-path="url(#c12)">
<path d="M409 197L412 196L418 194.6L420 194.1L423.8 194.6L425.8 192.7L427.7 193.2L429.6 191.7L431.5 188.8L433.5 186.4L435.4 185L437.3 183.1L439.2 181.6L440.7 180.2L442.1 181.2L443.6 177.8L445 173.9L446.2 172.5L447.4 173.9L448.7 171.5L449.3 166.7L450.3 171.5L451.3 177.3L453.2 180.2L455.1 183.6L457 186.9L458.9 189.8L460.9 192.7L463.3 194.1L466.2 195.1L470 195.6L474 196.5L477 197 Z" fill="url(#stl)"/>
<path d="M409 197L412 196L418 194.6L420 194.1L423.8 194.6L425.8 192.7L427.7 193.2L429.6 191.7L431.5 188.8L433.5 186.4L435.4 185L437.3 183.1L439.2 181.6L440.7 180.2L442.1 181.2L443.6 177.8L445 173.9L446.2 172.5L447.4 173.9L448.7 171.5L449.3 166.7L450.3 171.5L451.3 177.3L453.2 180.2L455.1 183.6L457 186.9L458.9 189.8L460.9 192.7L463.3 194.1L466.2 195.1L470 195.6L474 196.5L477 197 Z" fill="none" stroke="#fff" stroke-width="3.2" stroke-linejoin="miter" stroke-miterlimit="2"/>
<path d="M431.5 199L431.5 196L432.5 193.7L434 190L436.3 186.2L438.6 184.7L440.8 183.9L443.1 182.4L444.2 180.1L445.7 178.2L447.3 177.5L448.4 177.9L449.5 178.2L450.7 179L452.2 181.6L454.1 184.7L455.9 187.7L457.8 190.7L459.3 193L460.5 194.5L461.5 196L461.5 199 Z" fill="url(#st)"/>
<path d="M409 197L412 196L418 194.6L420 194.1L423.8 194.6L425.8 192.7L427.7 193.2L429.6 191.7L431.5 188.8L433.5 186.4L435.4 185L437.3 183.1L439.2 181.6L440.7 180.2L442.1 181.2L443.6 177.8L445 173.9L446.2 172.5L447.4 173.9L448.7 171.5L449.3 166.7L450.3 171.5L451.3 177.3L453.2 180.2L455.1 183.6L457 186.9L458.9 189.8L460.9 192.7L463.3 194.1L466.2 195.1L470 195.6L474 196.5L477 197 Z" fill="none" stroke="#111" stroke-width="1.2" stroke-linejoin="miter" stroke-miterlimit="1.5"/>
</g>
<rect x="402.2" y="143.6" width="108.4" height="53.4" fill="none" stroke="#111" stroke-width="1.2"/>
<path d="M397.6 197H402.2M399.7 195.22H402.2M399.7 193.44H402.2M399.7 191.66H402.2M399.7 189.88H402.2M399.7 188.1H402.2M397.6 186.32H402.2M399.7 184.54H402.2M399.7 182.76H402.2M399.7 180.98H402.2M399.7 179.2H402.2M399.7 177.42H402.2M397.6 175.64H402.2M399.7 173.86H402.2M399.7 172.08H402.2M399.7 170.3H402.2M399.7 168.52H402.2M399.7 166.74H402.2M397.6 164.96H402.2M399.7 163.18H402.2M399.7 161.4H402.2M399.7 159.62H402.2M399.7 157.84H402.2M399.7 156.06H402.2M397.6 154.28H402.2M399.7 152.5H402.2M399.7 150.72H402.2M399.7 148.94H402.2M399.7 147.16H402.2M399.7 145.38H402.2M397.6 143.6H402.2M410.22 197V200.2M414.92 197V200.2M418.24 197V200.2M420.83 197V200.2M422.94 197V200.2M424.72 197V200.2M426.27 197V200.2M427.63 197V200.2M436.87 197V200.2M441.57 197V200.2M444.89 197V200.2M447.48 197V200.2M449.59 197V200.2M451.37 197V200.2M452.92 197V200.2M454.28 197V200.2M463.52 197V200.2M468.22 197V200.2M471.54 197V200.2M474.13 197V200.2M476.24 197V200.2M478.02 197V200.2M479.57 197V200.2M480.93 197V200.2M490.17 197V200.2M494.87 197V200.2M498.19 197V200.2M500.78 197V200.2M502.89 197V200.2M504.67 197V200.2M506.22 197V200.2M507.58 197V200.2M402.2 197V202M428.85 197V202M455.5 197V202M482.15 197V202M508.8 197V202" stroke="#000" stroke-width="1" fill="none"/>
<text x="454.2" y="139.5" font-size="9.5" text-anchor="middle">CD33</text>
<text x="454.6" y="222.8" font-size="9.5" text-anchor="middle">FL2-H</text>
<text x="394.7" y="212.8" font-size="9.2">10</text>
<text x="405.25" y="207" font-size="8.4">0</text>
<text x="421.35" y="212.8" font-size="9.2">10</text>
<text x="431.9" y="207" font-size="8.4">1</text>
<text x="448" y="212.8" font-size="9.2">10</text>
<text x="458.55" y="207" font-size="8.4">2</text>
<text x="474.65" y="212.8" font-size="9.2">10</text>
<text x="485.2" y="207" font-size="8.4">3</text>
<text x="501.3" y="212.8" font-size="9.2">10</text>
<text x="511.85" y="207" font-size="8.4">4</text>
<text transform="translate(393.4 143.5) rotate(-90)" font-size="8.6" text-anchor="middle">100</text>
<text transform="translate(393.4 195.5) rotate(-90)" font-size="8.6" text-anchor="middle">0</text>
<text transform="translate(382.1 172.3) rotate(-90)" font-size="9.5" text-anchor="middle">Counts</text>
<g clip-path="url(#c20)">
<path d="M28.5 333.1L31.5 330.7L34.5 330.2L37 328.7L38.9 325.8L40.4 320.8L41.9 314.8L43.4 309.9L44.4 304.9L45.4 299.9L46.7 296.9L47.9 293.4L48.4 289L49.4 289.5L49.9 293L50.9 295.9L52.4 300.9L53.9 306.9L55.3 311.8L56.3 316.8L57.8 321.8L59.3 324.8L61.3 327.7L64.3 329.7L67.8 330.7L71.7 330.7L74.7 330.2L78 331.5L81 333.1 Z" fill="url(#st)"/>
<path d="M28.5 333.1L31.5 330.7L34.5 330.2L37 328.7L38.9 325.8L40.4 320.8L41.9 314.8L43.4 309.9L44.4 304.9L45.4 299.9L46.7 296.9L47.9 293.4L48.4 289L49.4 289.5L49.9 293L50.9 295.9L52.4 300.9L53.9 306.9L55.3 311.8L56.3 316.8L57.8 321.8L59.3 324.8L61.3 327.7L64.3 329.7L67.8 330.7L71.7 330.7L74.7 330.2L78 331.5L81 333.1 Z" fill="none" stroke="#fff" stroke-width="3.6" stroke-linejoin="miter" stroke-miterlimit="2"/>
<path d="M28.5 333.1L31.5 330.7L34.5 330.2L37 328.7L38.9 325.8L40.4 320.8L41.9 314.8L43.4 309.9L44.4 304.9L45.4 299.9L46.7 296.9L47.9 293.4L48.4 289L49.4 289.5L49.9 293L50.9 295.9L52.4 300.9L53.9 306.9L55.3 311.8L56.3 316.8L57.8 321.8L59.3 324.8L61.3 327.7L64.3 329.7L67.8 330.7L71.7 330.7L74.7 330.2L78 331.5L81 333.1 Z" fill="none" stroke="#111" stroke-width="1.2" stroke-linejoin="miter" stroke-miterlimit="1.5"/>
</g>
<rect x="30.5" y="278" width="110.7" height="55.1" fill="none" stroke="#111" stroke-width="1.2"/>
<path d="M25.9 333.1H30.5M28 331.26H30.5M28 329.43H30.5M28 327.59H30.5M28 325.75H30.5M28 323.92H30.5M25.9 322.08H30.5M28 320.24H30.5M28 318.41H30.5M28 316.57H30.5M28 314.73H30.5M28 312.9H30.5M25.9 311.06H30.5M28 309.22H30.5M28 307.39H30.5M28 305.55H30.5M28 303.71H30.5M28 301.88H30.5M25.9 300.04H30.5M28 298.2H30.5M28 296.37H30.5M28 294.53H30.5M28 292.69H30.5M28 290.86H30.5M25.9 289.02H30.5M28 287.18H30.5M28 285.35H30.5M28 283.51H30.5M28 281.67H30.5M28 279.84H30.5M25.9 278H30.5M38.7 333.1V336.3M43.49 333.1V336.3M46.89 333.1V336.3M49.53 333.1V336.3M51.69 333.1V336.3M53.51 333.1V336.3M55.09 333.1V336.3M56.48 333.1V336.3M65.92 333.1V336.3M70.71 333.1V336.3M74.12 333.1V336.3M76.75 333.1V336.3M78.91 333.1V336.3M80.73 333.1V336.3M82.31 333.1V336.3M83.7 333.1V336.3M93.15 333.1V336.3M97.94 333.1V336.3M101.34 333.1V336.3M103.98 333.1V336.3M106.14 333.1V336.3M107.96 333.1V336.3M109.54 333.1V336.3M110.93 333.1V336.3M120.37 333.1V336.3M125.16 333.1V336.3M128.57 333.1V336.3M131.2 333.1V336.3M133.36 333.1V336.3M135.18 333.1V336.3M136.76 333.1V336.3M138.15 333.1V336.3M30.5 333.1V338.1M57.72 333.1V338.1M84.95 333.1V338.1M112.17 333.1V338.1M139.4 333.1V338.1" stroke="#000" stroke-width="1" fill="none"/>
<text x="83.85" y="273.9" font-size="9.5" text-anchor="middle" letter-spacing="0.4">control</text>
<text x="84.05" y="358.9" font-size="9.5" text-anchor="middle">FL1-H</text>
<text x="23" y="348.9" font-size="9.2">10</text>
<text x="33.55" y="343.1" font-size="8.4">0</text>
<text x="50.22" y="348.9" font-size="9.2">10</text>
<text x="60.77" y="343.1" font-size="8.4">1</text>
<text x="77.45" y="348.9" font-size="9.2">10</text>
<text x="88" y="343.1" font-size="8.4">2</text>
<text x="104.67" y="348.9" font-size="9.2">10</text>
<text x="115.22" y="343.1" font-size="8.4">3</text>
<text x="131.9" y="348.9" font-size="9.2">10</text>
<text x="142.45" y="343.1" font-size="8.4">4</text>
<text transform="translate(21.7 277.9) rotate(-90)" font-size="8.6" text-anchor="middle">100</text>
<text transform="translate(21.7 331.6) rotate(-90)" font-size="8.6" text-anchor="middle">0</text>
<text transform="translate(10.4 307.55) rotate(-90)" font-size="9.5" text-anchor="middle">Counts</text>
<g clip-path="url(#c21)">
<path d="M214.4 333.4L217.4 328.5L218.9 327.5L220.3 322.7L221.8 316.9L222.9 311.2L223.7 305.4L224.5 302L225.6 299.6L227.1 296.7L228.3 297.2L229.5 299.1L230.4 302.5L231.4 305.4L232.8 309.2L234.3 313.1L235.7 317.4L237.2 320.8L238.6 324.1L240.5 327L242.9 329.9L245.8 330.9L249.7 331.8L254 332.5L257 333.4 Z" fill="url(#st)"/>
<path d="M214.4 333.4L217.4 328.5L218.9 327.5L220.3 322.7L221.8 316.9L222.9 311.2L223.7 305.4L224.5 302L225.6 299.6L227.1 296.7L228.3 297.2L229.5 299.1L230.4 302.5L231.4 305.4L232.8 309.2L234.3 313.1L235.7 317.4L237.2 320.8L238.6 324.1L240.5 327L242.9 329.9L245.8 330.9L249.7 331.8L254 332.5L257 333.4 Z" fill="none" stroke="#fff" stroke-width="3.6" stroke-linejoin="miter" stroke-miterlimit="2"/>
<path d="M214.4 333.4L217.4 328.5L218.9 327.5L220.3 322.7L221.8 316.9L222.9 311.2L223.7 305.4L224.5 302L225.6 299.6L227.1 296.7L228.3 297.2L229.5 299.1L230.4 302.5L231.4 305.4L232.8 309.2L234.3 313.1L235.7 317.4L237.2 320.8L238.6 324.1L240.5 327L242.9 329.9L245.8 330.9L249.7 331.8L254 332.5L257 333.4 Z" fill="none" stroke="#111" stroke-width="1.2" stroke-linejoin="miter" stroke-miterlimit="1.5"/>
</g>
<rect x="216.6" y="278.4" width="107.1" height="55" fill="none" stroke="#111" stroke-width="1.2"/>
<path d="M212 333.4H216.6M214.1 331.57H216.6M214.1 329.73H216.6M214.1 327.9H216.6M214.1 326.07H216.6M214.1 324.23H216.6M212 322.4H216.6M214.1 320.57H216.6M214.1 318.73H216.6M214.1 316.9H216.6M214.1 315.07H216.6M214.1 313.23H216.6M212 311.4H216.6M214.1 309.57H216.6M214.1 307.73H216.6M214.1 305.9H216.6M214.1 304.07H216.6M214.1 302.23H216.6M212 300.4H216.6M214.1 298.57H216.6M214.1 296.73H216.6M214.1 294.9H216.6M214.1 293.07H216.6M214.1 291.23H216.6M212 289.4H216.6M214.1 287.57H216.6M214.1 285.73H216.6M214.1 283.9H216.6M214.1 282.07H216.6M214.1 280.23H216.6M212 278.4H216.6M224.52 333.4V336.6M229.16 333.4V336.6M232.45 333.4V336.6M235 333.4V336.6M237.08 333.4V336.6M238.85 333.4V336.6M240.37 333.4V336.6M241.72 333.4V336.6M250.85 333.4V336.6M255.49 333.4V336.6M258.77 333.4V336.6M261.33 333.4V336.6M263.41 333.4V336.6M265.17 333.4V336.6M266.7 333.4V336.6M268.05 333.4V336.6M277.17 333.4V336.6M281.81 333.4V336.6M285.1 333.4V336.6M287.65 333.4V336.6M289.73 333.4V336.6M291.5 333.4V336.6M293.02 333.4V336.6M294.37 333.4V336.6M303.5 333.4V336.6M308.14 333.4V336.6M311.42 333.4V336.6M313.98 333.4V336.6M316.06 333.4V336.6M317.82 333.4V336.6M319.35 333.4V336.6M320.7 333.4V336.6M216.6 333.4V338.4M242.92 333.4V338.4M269.25 333.4V338.4M295.57 333.4V338.4M321.9 333.4V338.4" stroke="#000" stroke-width="1" fill="none"/>
<text x="267.95" y="274.3" font-size="9.5" text-anchor="middle">CD14</text>
<text x="268.35" y="359.2" font-size="9.5" text-anchor="middle">FL1-H</text>
<text x="209.1" y="349.2" font-size="9.2">10</text>
<text x="219.65" y="343.4" font-size="8.4">0</text>
<text x="235.42" y="349.2" font-size="9.2">10</text>
<text x="245.97" y="343.4" font-size="8.4">1</text>
<text x="261.75" y="349.2" font-size="9.2">10</text>
<text x="272.3" y="343.4" font-size="8.4">2</text>
<text x="288.07" y="349.2" font-size="9.2">10</text>
<text x="298.62" y="343.4" font-size="8.4">3</text>
<text x="314.4" y="349.2" font-size="9.2">10</text>
<text x="324.95" y="343.4" font-size="8.4">4</text>
<text transform="translate(207.8 278.3) rotate(-90)" font-size="8.6" text-anchor="middle">100</text>
<text transform="translate(207.8 331.9) rotate(-90)" font-size="8.6" text-anchor="middle">0</text>
<text transform="translate(196.5 307.9) rotate(-90)" font-size="9.5" text-anchor="middle">Counts</text>
<g clip-path="url(#c22)">
<path d="M402.6 337.9L405.6 336.1L406.9 334.8L409.1 335.3L411.7 334L414.2 332.7L416.4 331L418.1 327.9L419 325.3L420.3 324.5L421.6 323.2L422.9 320.6L424.2 317.1L425.3 318.8L426.8 317.5L429 314.5L430.7 318L432 317.1L433.5 314.5L434.6 317.5L436.3 316.2L437.6 319.7L439.3 321.4L440.8 320.1L442 320.2L443.4 323.6L446.1 325.6L448.8 328.3L451.5 331L454.1 333L456.8 334.3L459.5 335.3L463.6 336.1L467.6 336.6L472 337.3L475 337.9 Z" fill="url(#st)"/>
<path d="M409 336.8L411.7 334.8L416 332.7L420.3 327.5L423.8 322.3L425.9 320.6L428.1 320.1L430.7 321L433.3 320.1L435.9 320.6L437.6 322.6" fill="none" stroke="#fff" stroke-width="1.0" stroke-linejoin="round"/>
<path d="M402.6 337.9L405.6 336.1L406.9 334.8L409.1 335.3L411.7 334L414.2 332.7L416.4 331L418.1 327.9L419 325.3L420.3 324.5L421.6 323.2L422.9 320.6L424.2 317.1L425.3 318.8L426.8 317.5L429 314.5L430.7 318L432 317.1L433.5 314.5L434.6 317.5L436.3 316.2L437.6 319.7L439.3 321.4L440.8 320.1L442 320.2L443.4 323.6L446.1 325.6L448.8 328.3L451.5 331L454.1 333L456.8 334.3L459.5 335.3L463.6 336.1L467.6 336.6L472 337.3L475 337.9 Z" fill="none" stroke="#111" stroke-width="1.2" stroke-linejoin="miter" stroke-miterlimit="1.5"/>
</g>
<rect x="403.6" y="278.6" width="107.7" height="59.3" fill="none" stroke="#111" stroke-width="1.2"/>
<path d="M399 337.9H403.6M401.1 335.92H403.6M401.1 333.95H403.6M401.1 331.97H403.6M401.1 329.99H403.6M401.1 328.02H403.6M399 326.04H403.6M401.1 324.06H403.6M401.1 322.09H403.6M401.1 320.11H403.6M401.1 318.13H403.6M401.1 316.16H403.6M399 314.18H403.6M401.1 312.2H403.6M401.1 310.23H403.6M401.1 308.25H403.6M401.1 306.27H403.6M401.1 304.3H403.6M399 302.32H403.6M401.1 300.34H403.6M401.1 298.37H403.6M401.1 296.39H403.6M401.1 294.41H403.6M401.1 292.44H403.6M399 290.46H403.6M401.1 288.48H403.6M401.1 286.51H403.6M401.1 284.53H403.6M401.1 282.55H403.6M401.1 280.58H403.6M399 278.6H403.6M411.57 337.9V341.1M416.23 337.9V341.1M419.54 337.9V341.1M422.11 337.9V341.1M424.2 337.9V341.1M425.97 337.9V341.1M427.51 337.9V341.1M428.86 337.9V341.1M438.04 337.9V341.1M442.71 337.9V341.1M446.01 337.9V341.1M448.58 337.9V341.1M450.68 337.9V341.1M452.45 337.9V341.1M453.98 337.9V341.1M455.34 337.9V341.1M464.52 337.9V341.1M469.18 337.9V341.1M472.49 337.9V341.1M475.06 337.9V341.1M477.15 337.9V341.1M478.92 337.9V341.1M480.46 337.9V341.1M481.81 337.9V341.1M490.99 337.9V341.1M495.66 337.9V341.1M498.96 337.9V341.1M501.53 337.9V341.1M503.63 337.9V341.1M505.4 337.9V341.1M506.93 337.9V341.1M508.29 337.9V341.1M403.6 337.9V342.9M430.08 337.9V342.9M456.55 337.9V342.9M483.03 337.9V342.9M509.5 337.9V342.9" stroke="#000" stroke-width="1" fill="none"/>
<text x="455.25" y="274.5" font-size="9.5" text-anchor="middle">CD32</text>
<text x="455.65" y="362.5" font-size="9.5" text-anchor="middle">FL1-H</text>
<text x="396.1" y="353.7" font-size="9.2">10</text>
<text x="406.65" y="347.9" font-size="8.4">0</text>
<text x="422.58" y="353.7" font-size="9.2">10</text>
<text x="433.13" y="347.9" font-size="8.4">1</text>
<text x="449.05" y="353.7" font-size="9.2">10</text>
<text x="459.6" y="347.9" font-size="8.4">2</text>
<text x="475.53" y="353.7" font-size="9.2">10</text>
<text x="486.08" y="347.9" font-size="8.4">3</text>
<text x="502" y="353.7" font-size="9.2">10</text>
<text x="512.55" y="347.9" font-size="8.4">4</text>
<text transform="translate(394.8 278.5) rotate(-90)" font-size="8.6" text-anchor="middle">100</text>
<text transform="translate(394.8 336.4) rotate(-90)" font-size="8.6" text-anchor="middle">0</text>
<text transform="translate(383.5 310.25) rotate(-90)" font-size="9.5" text-anchor="middle">Counts</text>
<g clip-path="url(#c30)">
<path d="M28.4 472.5L31.4 468.9L33.4 468L34.8 463.7L36.3 457.9L37.7 452.1L39.1 448.3L40.6 443.5L41.5 442.5L43 444.4L44.4 443.5L45.9 442L46.8 440.6L47.8 441.5L48.8 437.2L49.7 441.5L50.7 446.8L51.6 449.2L53.1 451.2L54.5 455L56 459.8L57.9 464.6L59.8 467.5L62.2 469.4L65.6 470.4L69.4 469.9L73.3 470.4L78 471.5L81 472.5 Z" fill="url(#st)"/>
<path d="M28.4 472.5L31.4 468.9L33.4 468L34.8 463.7L36.3 457.9L37.7 452.1L39.1 448.3L40.6 443.5L41.5 442.5L43 444.4L44.4 443.5L45.9 442L46.8 440.6L47.8 441.5L48.8 437.2L49.7 441.5L50.7 446.8L51.6 449.2L53.1 451.2L54.5 455L56 459.8L57.9 464.6L59.8 467.5L62.2 469.4L65.6 470.4L69.4 469.9L73.3 470.4L78 471.5L81 472.5 Z" fill="none" stroke="#fff" stroke-width="3.6" stroke-linejoin="miter" stroke-miterlimit="2"/>
<path d="M28.4 472.5L31.4 468.9L33.4 468L34.8 463.7L36.3 457.9L37.7 452.1L39.1 448.3L40.6 443.5L41.5 442.5L43 444.4L44.4 443.5L45.9 442L46.8 440.6L47.8 441.5L48.8 437.2L49.7 441.5L50.7 446.8L51.6 449.2L53.1 451.2L54.5 455L56 459.8L57.9 464.6L59.8 467.5L62.2 469.4L65.6 470.4L69.4 469.9L73.3 470.4L78 471.5L81 472.5 Z" fill="none" stroke="#111" stroke-width="1.2" stroke-linejoin="miter" stroke-miterlimit="1.5"/>
</g>
<rect x="30.6" y="415" width="108.6" height="57.5" fill="none" stroke="#111" stroke-width="1.2"/>
<path d="M26 472.5H30.6M28.1 470.58H30.6M28.1 468.67H30.6M28.1 466.75H30.6M28.1 464.83H30.6M28.1 462.92H30.6M26 461H30.6M28.1 459.08H30.6M28.1 457.17H30.6M28.1 455.25H30.6M28.1 453.33H30.6M28.1 451.42H30.6M26 449.5H30.6M28.1 447.58H30.6M28.1 445.67H30.6M28.1 443.75H30.6M28.1 441.83H30.6M28.1 439.92H30.6M26 438H30.6M28.1 436.08H30.6M28.1 434.17H30.6M28.1 432.25H30.6M28.1 430.33H30.6M28.1 428.42H30.6M26 426.5H30.6M28.1 424.58H30.6M28.1 422.67H30.6M28.1 420.75H30.6M28.1 418.83H30.6M28.1 416.92H30.6M26 415H30.6M38.64 472.5V475.7M43.34 472.5V475.7M46.68 472.5V475.7M49.26 472.5V475.7M51.38 472.5V475.7M53.16 472.5V475.7M54.71 472.5V475.7M56.08 472.5V475.7M65.34 472.5V475.7M70.04 472.5V475.7M73.38 472.5V475.7M75.96 472.5V475.7M78.08 472.5V475.7M79.86 472.5V475.7M81.41 472.5V475.7M82.78 472.5V475.7M92.04 472.5V475.7M96.74 472.5V475.7M100.08 472.5V475.7M102.66 472.5V475.7M104.78 472.5V475.7M106.56 472.5V475.7M108.11 472.5V475.7M109.48 472.5V475.7M118.74 472.5V475.7M123.44 472.5V475.7M126.78 472.5V475.7M129.36 472.5V475.7M131.48 472.5V475.7M133.26 472.5V475.7M134.81 472.5V475.7M136.18 472.5V475.7M30.6 472.5V477.5M57.3 472.5V477.5M84 472.5V477.5M110.7 472.5V477.5M137.4 472.5V477.5" stroke="#000" stroke-width="1" fill="none"/>
<text x="82.7" y="410.9" font-size="9.5" text-anchor="middle">CD80</text>
<text x="83.1" y="498.3" font-size="9.5" text-anchor="middle">FL1-H</text>
<text x="23.1" y="488.3" font-size="9.2">10</text>
<text x="33.65" y="482.5" font-size="8.4">0</text>
<text x="49.8" y="488.3" font-size="9.2">10</text>
<text x="60.35" y="482.5" font-size="8.4">1</text>
<text x="76.5" y="488.3" font-size="9.2">10</text>
<text x="87.05" y="482.5" font-size="8.4">2</text>
<text x="103.2" y="488.3" font-size="9.2">10</text>
<text x="113.75" y="482.5" font-size="8.4">3</text>
<text x="129.9" y="488.3" font-size="9.2">10</text>
<text x="140.45" y="482.5" font-size="8.4">4</text>
<text transform="translate(21.8 414.9) rotate(-90)" font-size="8.6" text-anchor="middle">100</text>
<text transform="translate(21.8 471) rotate(-90)" font-size="8.6" text-anchor="middle">0</text>
<text transform="translate(10.5 445.75) rotate(-90)" font-size="9.5" text-anchor="middle">Counts</text>
<g clip-path="url(#c31)">
<path d="M226.5 472.9L229.5 472.6L230.8 470.9L232.3 470.2L233.7 470.9L234.8 472.6L236.8 471.8L238.1 468.8L240.4 469.1L243.8 467.1L247.3 464.2L250.2 460.8L253.1 456.7L255.4 452.7L257.1 448.7L258.8 446.3L260.2 443.5L261.2 441.2L262.1 439.4L263.2 442.9L264.6 442.3L266 445.2L266.9 449.2L268.1 453.8L269.8 459.6L271.5 464.2L273.3 467.1L275.6 469.4L277.3 471.2L278.5 472.3L282 472.8L285 472.9 Z" fill="url(#stl)"/>
<path d="M226.5 472.9L229.5 472.6L230.8 470.9L232.3 470.2L233.7 470.9L234.8 472.6L236.8 471.8L238.1 468.8L240.4 469.1L243.8 467.1L247.3 464.2L250.2 460.8L253.1 456.7L255.4 452.7L257.1 448.7L258.8 446.3L260.2 443.5L261.2 441.2L262.1 439.4L263.2 442.9L264.6 442.3L266 445.2L266.9 449.2L268.1 453.8L269.8 459.6L271.5 464.2L273.3 467.1L275.6 469.4L277.3 471.2L278.5 472.3L282 472.8L285 472.9 Z" fill="none" stroke="#fff" stroke-width="3.2" stroke-linejoin="miter" stroke-miterlimit="2"/>
<path d="M245.5 474.9L245.5 472.5L247.3 470.4L250.8 468.1L253.1 464.6L254.8 461.1L256.5 457.7L258.3 453.1L259.4 449.6L260.6 447.3L262.3 446.1L262.9 445.6L264.6 447.3L266.3 451.9L267.5 456.5L269.2 461.1L270.9 465.8L272.7 469.2L273.8 470.9L274.5 472.5L274.5 474.9 Z" fill="url(#st)"/>
<path d="M226.5 472.9L229.5 472.6L230.8 470.9L232.3 470.2L233.7 470.9L234.8 472.6L236.8 471.8L238.1 468.8L240.4 469.1L243.8 467.1L247.3 464.2L250.2 460.8L253.1 456.7L255.4 452.7L257.1 448.7L258.8 446.3L260.2 443.5L261.2 441.2L262.1 439.4L263.2 442.9L264.6 442.3L266 445.2L266.9 449.2L268.1 453.8L269.8 459.6L271.5 464.2L273.3 467.1L275.6 469.4L277.3 471.2L278.5 472.3L282 472.8L285 472.9 Z" fill="none" stroke="#111" stroke-width="1.2" stroke-linejoin="miter" stroke-miterlimit="1.5"/>
</g>
<rect x="216.3" y="415.4" width="108.1" height="57.5" fill="none" stroke="#111" stroke-width="1.2"/>
<path d="M211.7 472.9H216.3M213.8 470.98H216.3M213.8 469.07H216.3M213.8 467.15H216.3M213.8 465.23H216.3M213.8 463.32H216.3M211.7 461.4H216.3M213.8 459.48H216.3M213.8 457.57H216.3M213.8 455.65H216.3M213.8 453.73H216.3M213.8 451.82H216.3M211.7 449.9H216.3M213.8 447.98H216.3M213.8 446.07H216.3M213.8 444.15H216.3M213.8 442.23H216.3M213.8 440.32H216.3M211.7 438.4H216.3M213.8 436.48H216.3M213.8 434.57H216.3M213.8 432.65H216.3M213.8 430.73H216.3M213.8 428.82H216.3M211.7 426.9H216.3M213.8 424.98H216.3M213.8 423.07H216.3M213.8 421.15H216.3M213.8 419.23H216.3M213.8 417.32H216.3M211.7 415.4H216.3M224.3 472.9V476.1M228.98 472.9V476.1M232.3 472.9V476.1M234.88 472.9V476.1M236.98 472.9V476.1M238.76 472.9V476.1M240.3 472.9V476.1M241.66 472.9V476.1M250.87 472.9V476.1M255.55 472.9V476.1M258.87 472.9V476.1M261.45 472.9V476.1M263.55 472.9V476.1M265.33 472.9V476.1M266.87 472.9V476.1M268.23 472.9V476.1M277.45 472.9V476.1M282.13 472.9V476.1M285.45 472.9V476.1M288.03 472.9V476.1M290.13 472.9V476.1M291.91 472.9V476.1M293.45 472.9V476.1M294.81 472.9V476.1M304.02 472.9V476.1M308.7 472.9V476.1M312.02 472.9V476.1M314.6 472.9V476.1M316.7 472.9V476.1M318.48 472.9V476.1M320.02 472.9V476.1M321.38 472.9V476.1M216.3 472.9V477.9M242.88 472.9V477.9M269.45 472.9V477.9M296.02 472.9V477.9M322.6 472.9V477.9" stroke="#000" stroke-width="1" fill="none"/>
<text x="268.15" y="411.3" font-size="9.5" text-anchor="middle">CD86</text>
<text x="268.55" y="498.7" font-size="9.5" text-anchor="middle">FL1-H</text>
<text x="208.8" y="488.7" font-size="9.2">10</text>
<text x="219.35" y="482.9" font-size="8.4">0</text>
<text x="235.38" y="488.7" font-size="9.2">10</text>
<text x="245.93" y="482.9" font-size="8.4">1</text>
<text x="261.95" y="488.7" font-size="9.2">10</text>
<text x="272.5" y="482.9" font-size="8.4">2</text>
<text x="288.52" y="488.7" font-size="9.2">10</text>
<text x="299.07" y="482.9" font-size="8.4">3</text>
<text x="315.1" y="488.7" font-size="9.2">10</text>
<text x="325.65" y="482.9" font-size="8.4">4</text>
<text transform="translate(207.5 415.3) rotate(-90)" font-size="8.6" text-anchor="middle">100</text>
<text transform="translate(207.5 471.4) rotate(-90)" font-size="8.6" text-anchor="middle">0</text>
<text transform="translate(196.2 446.15) rotate(-90)" font-size="9.5" text-anchor="middle">Counts</text>
<g clip-path="url(#c32)">
<path d="M419.5 473.2L422.5 473.4L423.4 471L427.6 471L428.4 473.4L432 473.2L435 471.6L438 470.4L439.9 468.7L441.9 467.2L443.9 467.7L445.9 464.8L447.9 459.8L449.4 454.8L450.9 449.9L452.4 444.9L453.4 441.5L453.9 439.2L454.9 438.9L455.4 440.9L456 432.5L456.7 440.9L457.6 438.3L458.6 438.9L459.3 441.9L460.3 440.9L461.8 445.9L463.3 450.8L464.8 455.8L466.3 459.8L468.3 464.8L470.3 468.7L472.7 470.7L476.7 471.2L480 472L483 473.2 Z" fill="url(#stl)"/>
<path d="M419.5 473.2L422.5 473.4L423.4 471L427.6 471L428.4 473.4L432 473.2L435 471.6L438 470.4L439.9 468.7L441.9 467.2L443.9 467.7L445.9 464.8L447.9 459.8L449.4 454.8L450.9 449.9L452.4 444.9L453.4 441.5L453.9 439.2L454.9 438.9L455.4 440.9L456 432.5L456.7 440.9L457.6 438.3L458.6 438.9L459.3 441.9L460.3 440.9L461.8 445.9L463.3 450.8L464.8 455.8L466.3 459.8L468.3 464.8L470.3 468.7L472.7 470.7L476.7 471.2L480 472L483 473.2 Z" fill="none" stroke="#fff" stroke-width="3.2" stroke-linejoin="miter" stroke-miterlimit="2"/>
<path d="M447.5 475.2L447.5 473L448 471L449 466.4L450.3 461.8L451.7 456.3L453.1 451.8L454.5 448.1L455.8 445.4L457.2 444.9L458.6 445.4L459.9 449L461.3 453.6L462.7 458.2L464.1 462.7L465.4 467.3L466.8 471L467.3 473L467.3 475.2 Z" fill="url(#st)"/>
<path d="M419.5 473.2L422.5 473.4L423.4 471L427.6 471L428.4 473.4L432 473.2L435 471.6L438 470.4L439.9 468.7L441.9 467.2L443.9 467.7L445.9 464.8L447.9 459.8L449.4 454.8L450.9 449.9L452.4 444.9L453.4 441.5L453.9 439.2L454.9 438.9L455.4 440.9L456 432.5L456.7 440.9L457.6 438.3L458.6 438.9L459.3 441.9L460.3 440.9L461.8 445.9L463.3 450.8L464.8 455.8L466.3 459.8L468.3 464.8L470.3 468.7L472.7 470.7L476.7 471.2L480 472L483 473.2 Z" fill="none" stroke="#111" stroke-width="1.2" stroke-linejoin="miter" stroke-miterlimit="1.5"/>
</g>
<rect x="402.5" y="415.4" width="108.4" height="57.8" fill="none" stroke="#111" stroke-width="1.2"/>
<path d="M397.9 473.2H402.5M400 471.27H402.5M400 469.35H402.5M400 467.42H402.5M400 465.49H402.5M400 463.57H402.5M397.9 461.64H402.5M400 459.71H402.5M400 457.79H402.5M400 455.86H402.5M400 453.93H402.5M400 452.01H402.5M397.9 450.08H402.5M400 448.15H402.5M400 446.23H402.5M400 444.3H402.5M400 442.37H402.5M400 440.45H402.5M397.9 438.52H402.5M400 436.59H402.5M400 434.67H402.5M400 432.74H402.5M400 430.81H402.5M400 428.89H402.5M397.9 426.96H402.5M400 425.03H402.5M400 423.11H402.5M400 421.18H402.5M400 419.25H402.5M400 417.33H402.5M397.9 415.4H402.5M410.52 473.2V476.4M415.22 473.2V476.4M418.54 473.2V476.4M421.13 473.2V476.4M423.24 473.2V476.4M425.02 473.2V476.4M426.57 473.2V476.4M427.93 473.2V476.4M437.17 473.2V476.4M441.87 473.2V476.4M445.19 473.2V476.4M447.78 473.2V476.4M449.89 473.2V476.4M451.67 473.2V476.4M453.22 473.2V476.4M454.58 473.2V476.4M463.82 473.2V476.4M468.52 473.2V476.4M471.84 473.2V476.4M474.43 473.2V476.4M476.54 473.2V476.4M478.32 473.2V476.4M479.87 473.2V476.4M481.23 473.2V476.4M490.47 473.2V476.4M495.17 473.2V476.4M498.49 473.2V476.4M501.08 473.2V476.4M503.19 473.2V476.4M504.97 473.2V476.4M506.52 473.2V476.4M507.88 473.2V476.4M402.5 473.2V478.2M429.15 473.2V478.2M455.8 473.2V478.2M482.45 473.2V478.2M509.1 473.2V478.2" stroke="#000" stroke-width="1" fill="none"/>
<text x="452.5" y="408.1" font-size="10" text-anchor="middle">HLA-DR</text>
<text x="454.9" y="499" font-size="9.5" text-anchor="middle">FL1-H</text>
<text x="395" y="489" font-size="9.2">10</text>
<text x="405.55" y="483.2" font-size="8.4">0</text>
<text x="421.65" y="489" font-size="9.2">10</text>
<text x="432.2" y="483.2" font-size="8.4">1</text>
<text x="448.3" y="489" font-size="9.2">10</text>
<text x="458.85" y="483.2" font-size="8.4">2</text>
<text x="474.95" y="489" font-size="9.2">10</text>
<text x="485.5" y="483.2" font-size="8.4">3</text>
<text x="501.6" y="489" font-size="9.2">10</text>
<text x="512.15" y="483.2" font-size="8.4">4</text>
<text transform="translate(393.7 415.3) rotate(-90)" font-size="8.6" text-anchor="middle">100</text>
<text transform="translate(393.7 471.7) rotate(-90)" font-size="8.6" text-anchor="middle">0</text>
<text transform="translate(382.4 446.3) rotate(-90)" font-size="9.5" text-anchor="middle">Counts</text>
</svg></body></html>
